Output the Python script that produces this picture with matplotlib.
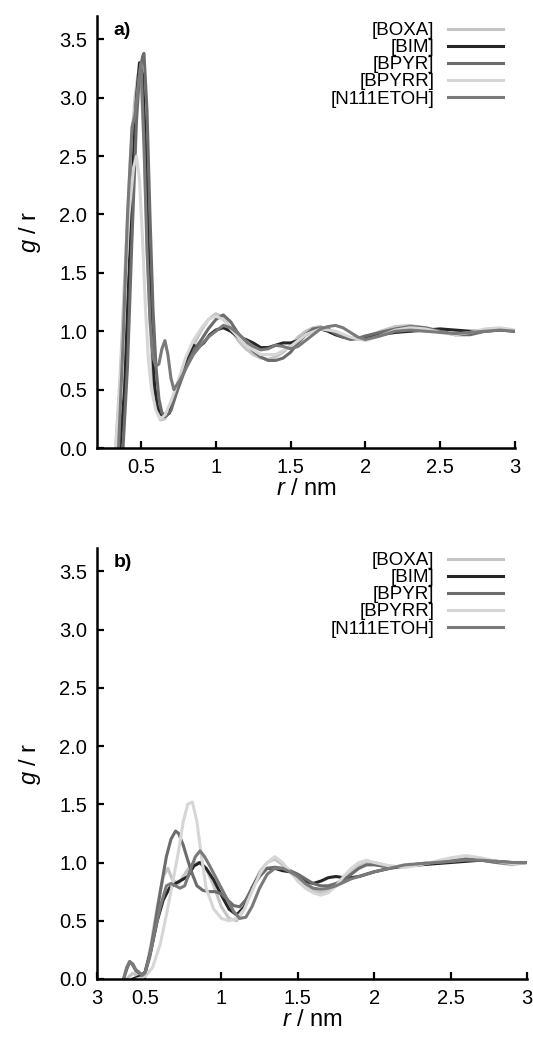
import matplotlib
matplotlib.use("Agg")
import matplotlib.pyplot as plt

plt.rcParams['font.family'] = ['Liberation Sans', 'DejaVu Sans']
plt.rcParams['mathtext.fontset'] = 'custom'
plt.rcParams['mathtext.rm'] = 'Liberation Sans'
plt.rcParams['mathtext.it'] = 'Liberation Sans:italic'

names = ['[BOXA]', '[BIM]', '[BPYR]', '[BPYRR]', '[N111ETOH]']
colors = ['#c4c4c4', '#262626', '#6c6c6c', '#d6d6d6', '#7a7a7a']

xticks = [0.5, 1, 1.5, 2, 2.5, 3]
xticklabels = ['0.5', '1', '1.5', '2', '2.5', '3']
yticks = [0.0, 0.5, 1.0, 1.5, 2.0, 2.5, 3.0, 3.5]
yticklabels = ['0.0', '0.5', '1.0', '1.5', '2.0', '2.5', '3.0', '3.5']

# ---- panel a) ----
a_boxa_r = [0.33,0.36,0.40,0.43,0.46,0.48,0.50,0.52,0.54,0.56,0.58,0.60,0.63,0.66,0.70,0.75,0.80,0.85,0.90,0.95,1.00,1.05,1.10,1.15,1.20,1.25,1.30,1.35,1.40,1.45,1.50,1.55,1.60,1.65,1.70,1.75,1.80,1.85,1.90,1.95,2.00,2.10,2.20,2.30,2.40,2.50,2.60,2.70,2.80,2.90,3.00]
a_boxa_g = [0,0.6,1.7,2.5,3.0,3.2,3.15,2.6,1.8,1.1,0.6,0.35,0.24,0.25,0.35,0.55,0.75,0.88,1.0,1.1,1.15,1.12,1.02,0.92,0.85,0.8,0.77,0.76,0.78,0.82,0.88,0.95,1.0,1.03,1.04,1.02,0.98,0.95,0.93,0.93,0.95,1.0,1.04,1.05,1.03,1.0,0.97,0.98,1.01,1.02,1.0]

a_bim_r = [0.36,0.39,0.42,0.45,0.47,0.49,0.51,0.53,0.55,0.57,0.59,0.61,0.63,0.66,0.69,0.72,0.76,0.80,0.84,0.85,0.88,0.92,0.96,1.00,1.05,1.10,1.15,1.20,1.25,1.30,1.35,1.40,1.45,1.50,1.55,1.60,1.65,1.70,1.75,1.80,1.85,1.90,1.95,2.00,2.10,2.20,2.30,2.40,2.50,2.60,2.70,2.80,2.90,3.00]
a_bim_g = [0,0.5,1.5,2.5,3.0,3.3,3.2,2.6,1.7,1.0,0.55,0.35,0.29,0.27,0.3,0.45,0.6,0.72,0.85,0.88,0.86,0.9,0.97,1.01,1.03,1.0,0.95,0.93,0.9,0.86,0.86,0.88,0.9,0.9,0.92,0.97,1.0,1.02,1.0,0.97,0.95,0.94,0.94,0.95,0.97,0.99,1.0,1.01,1.02,1.01,1.0,1.0,1.01,1.0]

a_bpyr_r = [0.38,0.41,0.44,0.47,0.49,0.51,0.52,0.54,0.56,0.58,0.60,0.62,0.64,0.67,0.70,0.74,0.78,0.82,0.86,0.90,0.95,1.00,1.05,1.10,1.15,1.20,1.25,1.30,1.35,1.40,1.45,1.50,1.55,1.60,1.65,1.70,1.75,1.80,1.85,1.90,1.95,2.00,2.10,2.20,2.30,2.40,2.50,2.60,2.70,2.80,2.90,3.00]
a_bpyr_g = [0,0.7,1.8,2.8,3.2,3.35,3.38,2.9,2.0,1.2,0.7,0.42,0.3,0.28,0.32,0.48,0.62,0.75,0.85,0.92,1.02,1.1,1.14,1.08,0.98,0.9,0.83,0.78,0.75,0.75,0.77,0.82,0.9,0.97,1.02,1.03,1.02,0.98,0.95,0.93,0.94,0.96,0.99,1.02,1.04,1.03,1.0,0.97,0.97,1.0,1.02,1.0]

a_bpyrr_r = [0.33,0.36,0.39,0.42,0.45,0.47,0.49,0.51,0.53,0.55,0.57,0.60,0.63,0.66,0.70,0.75,0.80,0.85,0.90,0.95,1.00,1.05,1.10,1.20,1.30,1.40,1.50,1.60,1.70,1.80,1.90,2.00,2.10,2.20,2.30,2.40,2.50,2.60,2.70,2.80,2.90,3.00]
a_bpyrr_g = [0,0.5,1.3,2.0,2.4,2.5,2.3,1.8,1.2,0.75,0.5,0.32,0.25,0.28,0.4,0.58,0.78,0.92,1.02,1.1,1.13,1.1,1.02,0.88,0.8,0.8,0.87,0.97,1.02,1.0,0.95,0.92,0.96,1.01,1.03,1.02,0.99,0.97,0.99,1.02,1.03,1.01]

a_n111_r = [0.35,0.38,0.41,0.44,0.46,0.48,0.50,0.52,0.54,0.56,0.58,0.60,0.62,0.64,0.66,0.68,0.70,0.72,0.76,0.80,0.85,0.90,0.95,1.00,1.05,1.10,1.15,1.20,1.25,1.30,1.35,1.40,1.45,1.50,1.55,1.60,1.65,1.70,1.75,1.80,1.85,1.90,1.95,2.00,2.10,2.20,2.30,2.40,2.50,2.60,2.70,2.80,2.90,3.00]
a_n111_g = [0,0.9,2.0,2.75,2.85,3.1,3.3,2.6,1.7,1.1,0.78,0.7,0.72,0.85,0.92,0.8,0.6,0.5,0.58,0.68,0.8,0.88,0.95,1.0,1.05,1.03,0.98,0.92,0.87,0.84,0.85,0.88,0.87,0.85,0.87,0.92,0.97,1.02,1.04,1.05,1.03,0.99,0.95,0.93,0.96,1.0,1.01,1.0,0.99,0.98,0.99,1.0,1.01,1.0]

# ---- panel b) ----
b_boxa_r = [0.38,0.42,0.46,0.50,0.54,0.58,0.62,0.65,0.68,0.72,0.76,0.80,0.85,0.90,0.95,1.00,1.05,1.10,1.15,1.20,1.25,1.30,1.35,1.40,1.45,1.50,1.55,1.60,1.65,1.70,1.75,1.80,1.85,1.90,1.95,2.00,2.10,2.20,2.30,2.40,2.50,2.60,2.70,2.80,2.90,3.00]
b_boxa_g = [0,0.05,0.02,0.05,0.3,0.62,0.88,0.95,0.85,0.82,0.9,0.98,1.0,0.95,0.8,0.62,0.52,0.5,0.6,0.78,0.92,1.0,1.03,0.98,0.92,0.86,0.8,0.76,0.74,0.76,0.8,0.86,0.92,0.97,1.0,1.0,0.97,0.96,0.98,1.0,1.02,1.03,1.02,1.0,0.98,1.0]

b_bim_r = [0.42,0.46,0.50,0.54,0.58,0.62,0.66,0.70,0.74,0.78,0.82,0.86,0.90,0.95,1.00,1.05,1.10,1.15,1.20,1.25,1.30,1.35,1.40,1.45,1.50,1.55,1.60,1.65,1.70,1.75,1.80,1.85,1.90,1.95,2.00,2.10,2.20,2.30,2.40,2.50,2.60,2.70,2.80,2.90,3.00]
b_bim_g = [0,0.02,0.05,0.25,0.5,0.68,0.78,0.82,0.85,0.88,0.97,1.0,0.95,0.85,0.72,0.6,0.55,0.62,0.78,0.9,0.95,0.95,0.93,0.92,0.88,0.84,0.82,0.84,0.87,0.88,0.87,0.87,0.88,0.9,0.92,0.95,0.97,0.98,0.99,1.0,1.01,1.02,1.01,1.0,1.0]

b_bpyr_r = [0.36,0.38,0.40,0.42,0.44,0.46,0.48,0.50,0.53,0.56,0.60,0.64,0.67,0.70,0.72,0.75,0.78,0.81,0.84,0.88,0.92,0.96,1.00,1.04,1.08,1.12,1.16,1.20,1.25,1.30,1.35,1.40,1.45,1.50,1.55,1.60,1.65,1.70,1.75,1.80,1.85,1.90,1.95,2.00,2.10,2.20,2.30,2.40,2.50,2.60,2.70,2.80,2.90,3.00]
b_bpyr_g = [0,0.08,0.15,0.12,0.07,0.05,0.04,0.06,0.2,0.42,0.75,1.05,1.2,1.27,1.25,1.15,1.02,0.9,0.8,0.76,0.75,0.75,0.73,0.68,0.63,0.62,0.68,0.78,0.88,0.95,0.96,0.95,0.93,0.9,0.86,0.82,0.8,0.8,0.82,0.85,0.9,0.95,0.98,0.98,0.96,0.97,0.99,1.0,1.01,1.03,1.02,1.0,0.99,1.0]

b_bpyrr_r = [0.45,0.50,0.55,0.60,0.64,0.68,0.72,0.75,0.78,0.81,0.84,0.87,0.90,0.95,1.00,1.05,1.10,1.15,1.20,1.25,1.30,1.35,1.40,1.45,1.50,1.55,1.60,1.65,1.70,1.75,1.80,1.85,1.90,1.95,2.00,2.10,2.20,2.30,2.40,2.50,2.60,2.70,2.80,2.90,3.00]
b_bpyrr_g = [0,0.02,0.1,0.3,0.55,0.82,1.1,1.35,1.5,1.52,1.35,1.05,0.78,0.6,0.52,0.5,0.52,0.6,0.75,0.9,1.0,1.05,1.0,0.92,0.84,0.78,0.74,0.72,0.74,0.8,0.88,0.95,1.0,1.02,1.0,0.97,0.96,0.98,1.01,1.04,1.06,1.04,1.01,0.99,1.0]

b_n111_r = [0.36,0.38,0.40,0.42,0.44,0.46,0.48,0.50,0.53,0.56,0.60,0.64,0.67,0.70,0.73,0.76,0.80,0.83,0.86,0.89,0.92,0.96,1.00,1.04,1.08,1.12,1.16,1.20,1.25,1.30,1.35,1.40,1.45,1.50,1.55,1.60,1.65,1.70,1.75,1.80,1.85,1.90,1.95,2.00,2.10,2.20,2.30,2.40,2.50,2.60,2.70,2.80,2.90,3.00]
b_n111_g = [0,0.1,0.15,0.13,0.08,0.06,0.03,0.05,0.18,0.38,0.62,0.8,0.82,0.8,0.78,0.8,0.95,1.05,1.1,1.05,0.98,0.88,0.78,0.68,0.58,0.52,0.53,0.62,0.78,0.9,0.95,0.95,0.92,0.88,0.82,0.78,0.77,0.78,0.8,0.83,0.86,0.88,0.9,0.92,0.95,0.98,0.99,1.0,1.01,1.02,1.02,1.01,1.0,1.0]

panel_a = [(a_boxa_r, a_boxa_g), (a_bim_r, a_bim_g), (a_bpyr_r, a_bpyr_g),
           (a_bpyrr_r, a_bpyrr_g), (a_n111_r, a_n111_g)]
panel_b = [(b_boxa_r, b_boxa_g), (b_bim_r, b_bim_g), (b_bpyr_r, b_bpyr_g),
           (b_bpyrr_r, b_bpyrr_g), (b_n111_r, b_n111_g)]

W, H = 533, 1037
fig = plt.figure(figsize=(W / 100, H / 100), dpi=100)

def px_axes(left, top, right, bottom):
    return fig.add_axes([left / W, 1 - bottom / H, (right - left) / W, (bottom - top) / H])

ax_a = px_axes(97, 16, 515, 448)
ax_b = px_axes(97, 548, 527, 979)

def style(ax, panel, tag, xlim, xt, xtl, legend_top):
    for (r, g), c, n in zip(panel, colors, names):
        ax.plot(r, g, color=c, lw=2.2, label=n, solid_joinstyle='round')
    ax.set_xlim(*xlim)
    ax.set_ylim(0, 3.7)
    ax.set_xticks(xt)
    ax.set_xticklabels(xtl)
    ax.set_yticks(yticks)
    ax.set_yticklabels(yticklabels)
    for s in ['top', 'right']:
        ax.spines[s].set_visible(False)
    for s in ['left', 'bottom']:
        ax.spines[s].set_linewidth(1.8)
    ax.tick_params(direction='in', length=5, width=1.6, labelsize=14.5, pad=7)
    ax.set_ylabel(r'$g$ / r', fontsize=17, labelpad=12)
    ax.set_xlabel(r'$r$ / nm', fontsize=17, labelpad=1)
    ax.text(0.04, 0.985, tag, transform=ax.transAxes, fontsize=14,
            fontweight='bold', va='top', ha='left')
    leg = ax.legend(loc='upper right', bbox_to_anchor=(503 / W, 1 - legend_top / H),
                    bbox_transform=fig.transFigure, frameon=False, markerfirst=False,
                    fontsize=13.5, handlelength=2.95, handletextpad=0.7,
                    labelspacing=0.0, borderpad=0, borderaxespad=0)
    for line in leg.get_lines():
        line.set_linewidth(2.2)

style(ax_a, panel_a, 'a)', (0.206, 3.0), xticks, xticklabels, 22)
style(ax_b, panel_b, 'b)', (0.186, 3.0), [0.186] + xticks, ['3'] + xticklabels, 552)

fig.savefig('out.png', dpi=100)
